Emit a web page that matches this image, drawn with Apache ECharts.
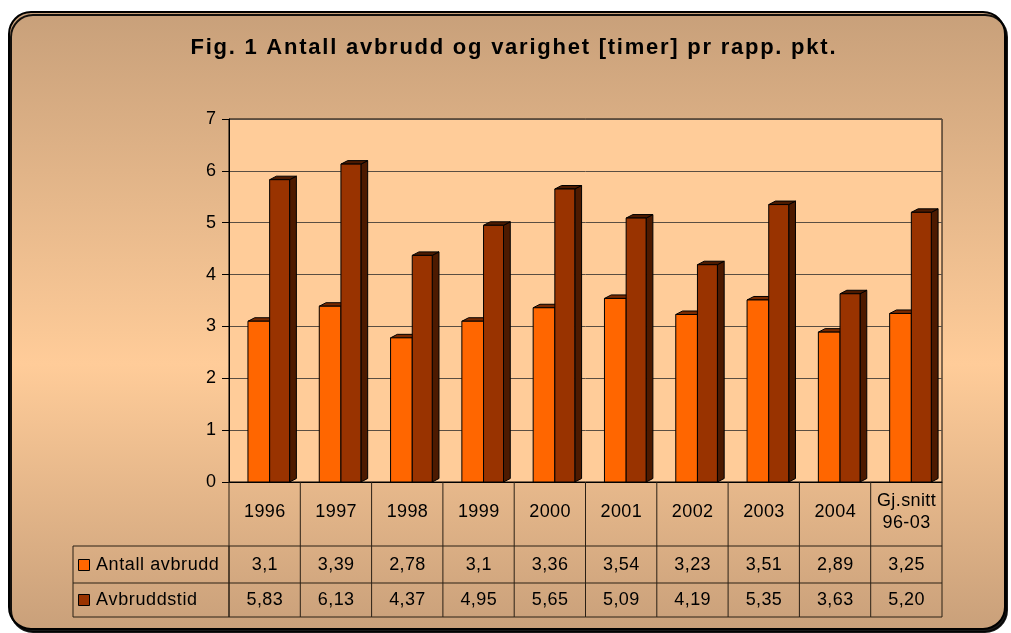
<!DOCTYPE html>
<html>
<head>
<meta charset="utf-8">
<script src="https://cdn.jsdelivr.net/npm/echarts@6/dist/echarts.min.js"></script>
<style>
html,body{margin:0;padding:0;background:#fff;}
#c{width:1011px;height:633px;}
</style>
</head>
<body>
<div id="c"></div>
<script>
const titleText = 'Fig. 1 Antall avbrudd og varighet [timer] pr rapp. pkt.';
const categories = ['1996','1997','1998','1999','2000','2001','2002','2003','2004','Gj.snitt\n96-03'];
const seriesNames = ['Antall avbrudd','Avbruddstid'];
const antall = [3.1, 3.39, 2.78, 3.1, 3.36, 3.54, 3.23, 3.51, 2.89, 3.25];
const avbruddstid = [5.83, 6.13, 4.37, 4.95, 5.65, 5.09, 4.19, 5.35, 3.63, 5.20];
const yMin = 0, yMax = 7, yStep = 1;

const FONT = "'Liberation Sans', Arial, sans-serif";
const fmtA = v => String(v).replace('.', ',');
const fmtB = v => v.toFixed(2).replace('.', ',');

const measureCtx = document.createElement('canvas').getContext('2d');
// Text with letter spacing, built from one text element per character.
// If targetWidth is given, spacing is chosen so the text spans that width.
function spacedText(text, x, y, font, spacing, align, targetWidth) {
  measureCtx.font = font;
  const chars = Array.from(text);
  const widths = chars.map(ch => measureCtx.measureText(ch).width);
  const natural = widths.reduce((a, b) => a + b, 0);
  if (targetWidth) spacing = (targetWidth - natural) / (chars.length - 1);
  const total = natural + spacing * (chars.length - 1);
  let cx = align === 'center' ? x - total / 2 : x;
  const children = [];
  chars.forEach((ch, i) => {
    if (ch !== ' ') {
      children.push({type: 'text', style: {text: ch, x: cx, y: y, align: 'left', verticalAlign: 'middle', font: font, fill: '#000'}});
    }
    cx += widths[i] + spacing;
  });
  return {type: 'group', z: 10, children: children};
}

function bar3D(f0, f1, front, topC, sideC) {
  return function (params, api) {
    const idx = api.value(0), v = api.value(1);
    const base = api.coord([idx, 0]);
    const top = api.coord([idx, v]);
    const bw = api.size([1, 0])[0];
    const x0 = base[0] + f0 * bw, x1 = base[0] + f1 * bw;
    const dx = 0.095 * bw, dy = 3.5;
    const st = {stroke: '#000', lineWidth: 1};
    return {
      type: 'group',
      children: [
        {type: 'polygon', shape: {points: [[x1, top[1]], [x1 + dx, top[1] - dy], [x1 + dx, base[1] - dy], [x1, base[1]]]},
         style: Object.assign({fill: sideC}, st)},
        {type: 'polygon', shape: {points: [[x0, top[1]], [x0 + dx, top[1] - dy], [x1 + dx, top[1] - dy], [x1, top[1]]]},
         style: Object.assign({fill: topC}, st)},
        {type: 'rect', shape: {x: x0, y: top[1], width: x1 - x0, height: base[1] - top[1]},
         style: Object.assign({fill: front}, st)}
      ]
    };
  };
}

function tableItem(params, api) {
  const idx = api.value(0);
  const c = api.coord([idx, 0]);
  const bw = api.size([1, 0])[0];
  const left = c[0] - bw / 2, right = c[0] + bw / 2;
  const y0 = c[1];
  const yH = y0 + 64, yR1 = y0 + 101, yR2 = y0 + 135;
  const ls = {stroke: '#2a2015', lineWidth: 1};
  const f = '18px ' + FONT;
  const ch = [
    {type: 'line', shape: {x1: left, y1: y0, x2: left, y2: yR2}, style: ls},
    {type: 'line', shape: {x1: left, y1: yH, x2: right, y2: yH}, style: ls},
    {type: 'line', shape: {x1: left, y1: yR1, x2: right, y2: yR1}, style: ls},
    {type: 'line', shape: {x1: left, y1: yR2, x2: right, y2: yR2}, style: ls}
  ];
  const lines = categories[idx].split('\n');
  lines.forEach((t, k) => {
    const yy = y0 + 30 + (k - (lines.length - 1) / 2) * 22;
    ch.push(spacedText(t, c[0], yy, f, 0.4, 'center'));
  });
  ch.push(spacedText(fmtA(antall[idx]), c[0], y0 + 83, f, 0.4, 'center'));
  ch.push(spacedText(fmtB(avbruddstid[idx]), c[0], y0 + 118, f, 0.4, 'center'));
  if (idx === categories.length - 1) {
    ch.push({type: 'line', shape: {x1: right, y1: y0, x2: right, y2: yR2}, style: ls});
  }
  return {type: 'group', children: ch};
}

const chart = echarts.init(document.getElementById('c'), null, {renderer: 'canvas'});
chart.setOption({
  backgroundColor: '#ffffff',
  animation: false,
  graphic: [
    {type: 'rect', z: -10, shape: {x: 9, y: 12, width: 996, height: 617, r: 22},
     style: {
       fill: new echarts.graphic.LinearGradient(0, 0, 0, 1, [
         {offset: 0, color: '#C8A07A'},
         {offset: 0.57, color: '#FFCC99'},
         {offset: 1, color: '#C9A07A'}
       ]),
       stroke: '#000', lineWidth: 2,
       shadowColor: 'rgba(0,0,0,0.9)', shadowOffsetX: 2, shadowOffsetY: 3, shadowBlur: 0
     }},
    spacedText(titleText, 513, 48, 'bold 22px ' + FONT, 0, 'center', 645),
    {type: 'rect', z: 10, shape: {x: 73, y: 546, width: 156, height: 71},
     style: {fill: 'none', stroke: '#2a2015', lineWidth: 1}},
    {type: 'line', z: 10, shape: {x1: 73, y1: 583, x2: 229, y2: 583}, style: {stroke: '#2a2015', lineWidth: 1}},
    {type: 'rect', z: 10, shape: {x: 78.5, y: 559.5, width: 11, height: 11},
     style: {fill: '#FF6600', stroke: '#000', lineWidth: 1}},
    {type: 'rect', z: 10, shape: {x: 78.5, y: 594.5, width: 11, height: 11},
     style: {fill: '#993300', stroke: '#000', lineWidth: 1}},
    spacedText(seriesNames[0], 96, 565, '18px ' + FONT, 0.6, 'left'),
    spacedText(seriesNames[1], 96, 600, '18px ' + FONT, 0.6, 'left')
  ],
  grid: {
    left: 229, top: 119, right: 69, bottom: 151,
    show: true, backgroundColor: '#FFCC99', borderColor: '#000', borderWidth: 1
  },
  xAxis: {
    type: 'category', data: categories,
    axisLine: {show: true, lineStyle: {color: '#000', width: 1}},
    axisTick: {show: false},
    axisLabel: {show: false},
    splitLine: {show: false}
  },
  yAxis: {
    type: 'value', min: yMin, max: yMax, interval: yStep,
    axisLine: {show: true, lineStyle: {color: '#000', width: 1}},
    axisTick: {show: true, length: 7, inside: false, lineStyle: {color: '#000'}},
    axisLabel: {color: '#000', fontSize: 18, fontFamily: FONT, margin: 13},
    splitLine: {show: true, lineStyle: {color: '#5a4e42', width: 1}}
  },
  series: [
    {type: 'custom', name: seriesNames[0], renderItem: bar3D(-0.234, 0.07, '#FF6600', '#7a2a00', '#4D1A00'),
     data: antall.map((v, i) => [i, v]), encode: {x: 0, y: 1}, z: 3},
    {type: 'custom', name: seriesNames[1], renderItem: bar3D(0.07, 0.35, '#993300', '#4D1A00', '#4D1A00'),
     data: avbruddstid.map((v, i) => [i, v]), encode: {x: 0, y: 1}, z: 4},
    {type: 'custom', name: 'table', renderItem: tableItem, clip: false,
     data: categories.map((c, i) => [i, 0]), encode: {x: 0, y: 1}, z: 5, silent: true}
  ]
});
</script>
</body>
</html>
